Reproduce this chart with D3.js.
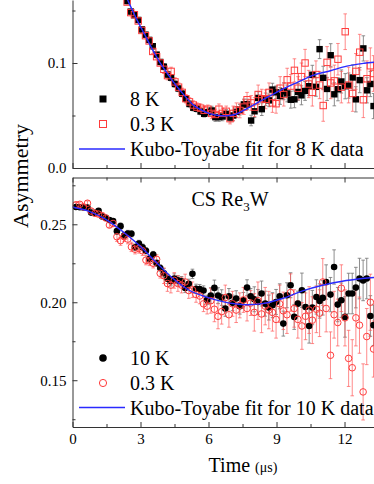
<!DOCTYPE html>
<html>
<head>
<meta charset="utf-8">
<script src="https://cdn.jsdelivr.net/npm/d3@7"></script>
<style>
    body { margin: 0; background: #fff; }
    svg { display: block; font-family: "Liberation Serif", "Times New Roman", serif; }
</style>
</head>
<body>
<svg id="chart" width="374" height="484"></svg>
<script>
// ---- data ----
// upper panel (8 K / 0.3 K), time in us
const timesTop = [2.41, 2.57, 2.73, 2.90, 3.06, 3.22, 3.38, 3.54, 3.71, 3.87, 4.03, 4.19, 4.35, 4.52, 4.68,
    4.84, 5.00, 5.16, 5.33, 5.49, 5.65, 5.81, 5.97, 6.14, 6.30, 6.46, 6.62, 6.78, 6.95,
    7.09, 7.23, 7.38, 7.56, 7.70, 7.88, 8.03, 8.19, 8.35, 8.52, 8.67, 8.82, 8.98, 9.16, 9.32, 9.47,
    9.63, 9.79, 9.95, 10.10, 10.26, 10.42, 10.58, 10.74, 10.90, 11.06, 11.23, 11.39, 11.55, 11.71,
    11.86, 12.03, 12.18, 12.36, 12.50, 12.67, 12.83, 12.99, 13.14, 13.28];
const asym8K = [0.159, 0.149, 0.1455, 0.141, 0.132, 0.127, 0.122, 0.116, 0.108, 0.101, 0.0965, 0.089, 0.086,
    0.080, 0.0757, 0.0708, 0.066, 0.061, 0.0574, 0.0564, 0.0538, 0.0516, 0.0532, 0.0548, 0.0484, 0.0484,
    0.049, 0.0516, 0.048,
    0.050, 0.0535, 0.0555, 0.0606, 0.0606, 0.0452, 0.054, 0.0667, 0.056, 0.0654, 0.0644, 0.0747, 0.0721,
    0.0686, 0.073, 0.071, 0.065, 0.0654, 0.0724, 0.0692, 0.0734, 0.0779, 0.0888, 0.0773, 0.1132, 0.0859,
    0.0753, 0.1074, 0.0702, 0.075, 0.0824, 0.0779, 0.0785, 0.0862, 0.0654, 0.0837, 0.1139, 0.074, 0.080, 0.059];
const err8K = [0.002, 0.002, 0.002, 0.002, 0.002, 0.002, 0.002, 0.002, 0.002, 0.002,
    0.003, 0.003, 0.003, 0.003, 0.003, 0.003, 0.003, 0.003, 0.003, 0.003, 0.003, 0.003, 0.003,
    0.004, 0.004, 0.004, 0.004, 0.004, 0.004,
    0.005, 0.005, 0.005, 0.005, 0.005, 0.005,
    0.006, 0.006, 0.006, 0.006, 0.006, 0.006, 0.006,
    0.008, 0.008, 0.008, 0.008, 0.008, 0.008,
    0.009, 0.009, 0.009, 0.009, 0.009, 0.009,
    0.011, 0.011, 0.011, 0.011, 0.011, 0.011,
    0.012, 0.012, 0.012, 0.012, 0.012, 0.012, 0.012, 0.012, 0.012];
const asym03Ktop = [0.158, 0.148, 0.146, 0.140, 0.131, 0.126, 0.121, 0.111, 0.106, 0.100, 0.094, 0.088, 0.092,
    0.082, 0.077, 0.072, 0.066, 0.063, 0.060, 0.058, 0.057, 0.055, 0.056, 0.052, 0.051, 0.056, 0.052,
    0.054, 0.047,
    0.052, 0.055, 0.0548, 0.058, 0.065, 0.062, 0.058, 0.070, 0.066, 0.0654, 0.072, 0.062, 0.0612, 0.076,
    0.070, 0.084, 0.078, 0.093, 0.076, 0.087, 0.100, 0.080, 0.072, 0.089, 0.079, 0.0595, 0.1006, 0.081,
    0.083, 0.1036, 0.077, 0.1298, 0.079, 0.071, 0.092, 0.1103, 0.065, 0.085, 0.0974, 0.090];
const err03Ktop = [0.002, 0.002, 0.002, 0.002, 0.002, 0.002, 0.002, 0.002, 0.002, 0.002,
    0.004, 0.004, 0.004, 0.004, 0.004, 0.004, 0.004, 0.004, 0.004, 0.004, 0.004, 0.004, 0.004,
    0.005, 0.005, 0.005, 0.005, 0.005, 0.005,
    0.007, 0.007, 0.007, 0.007, 0.007, 0.007,
    0.009, 0.009, 0.009, 0.009, 0.009, 0.009, 0.009,
    0.011, 0.011, 0.011, 0.011, 0.011, 0.011,
    0.013, 0.013, 0.013, 0.013, 0.013, 0.013,
    0.015, 0.015, 0.015, 0.015, 0.015, 0.015,
    0.017, 0.017, 0.017, 0.017, 0.017, 0.017, 0.017, 0.017, 0.017];
const fitTimesTop = [2.2, 2.41, 2.8, 3.15, 3.5, 3.88, 4.25, 4.62, 5.0, 5.35, 5.7, 6.09, 6.45, 6.82, 7.2,
    7.82, 8.4, 9.17, 9.9, 10.64, 11.38, 12.1, 12.86, 13.4];
const fitTop = [0.171, 0.161, 0.143, 0.1285, 0.114, 0.0997, 0.088, 0.0772, 0.0675, 0.0596, 0.055, 0.0516,
    0.050, 0.0497, 0.0512, 0.058, 0.065, 0.074, 0.0814, 0.0885, 0.0926, 0.097, 0.0997, 0.101];

// lower panel (10 K / 0.3 K)
const timesBot = [0.15, 0.32, 0.48, 0.66, 0.82, 0.99, 1.15, 1.31, 1.47, 1.63, 1.79, 1.96, 2.12, 2.28, 2.44,
    2.60, 2.76, 2.93, 3.09, 3.24, 3.40, 3.56, 3.71, 3.87, 4.03, 4.19, 4.34, 4.49, 4.65, 4.81, 4.97, 5.13,
    5.29, 5.45, 5.61, 5.78, 5.94, 6.10, 6.26, 6.42, 6.58, 6.74, 6.90, 7.06, 7.22, 7.38, 7.54, 7.70, 7.86,
    8.02, 8.18, 8.34, 8.50, 8.66, 8.82, 8.98, 9.14, 9.30, 9.46, 9.62, 9.78, 9.94, 10.12, 10.28, 10.44,
    10.58, 10.76, 10.90, 11.04, 11.19, 11.38, 11.54, 11.70, 11.86, 12.02, 12.18, 12.34, 12.50, 12.66,
    12.82, 12.98, 13.14, 13.28];
const asym10K = [0.2611, 0.2609, 0.2608, 0.2608, 0.2575, 0.2574, 0.2587, 0.2550, 0.2542, 0.2527,
    0.2520, 0.2456, 0.2488, 0.2428, 0.2441, 0.2439, 0.2353, 0.2377, 0.2353, 0.2330,
    0.2278, 0.2306, 0.2251, 0.2220, 0.2186, 0.2150, 0.2135, 0.2152, 0.2140, 0.2135,
    0.2092, 0.2118, 0.2182, 0.2086, 0.2084, 0.2075, 0.2015, 0.2043, 0.2092, 0.2043,
    0.2030, 0.1960, 0.2038, 0.1996, 0.2024, 0.1974, 0.2013, 0.2094, 0.2038, 0.2019,
    0.2002, 0.2056, 0.1991, 0.1966, 0.1981, 0.2002, 0.2038, 0.1863, 0.2045, 0.2109,
    0.1906, 0.1991, 0.2077, 0.1970, 0.1848, 0.1966, 0.2034, 0.2008, 0.2028, 0.2130,
    0.2049, 0.2226, 0.1985, 0.2013, 0.1906, 0.2056, 0.2056, 0.2094, 0.2152, 0.2140,
    0.2152, 0.1912, 0.1853];
const err10K = [0.001, 0.001, 0.001, 0.001, 0.001, 0.001, 0.001, 0.001, 0.001, 0.001, 0.001,
    0.002, 0.002, 0.002, 0.002, 0.002, 0.002, 0.002, 0.002, 0.002, 0.002, 0.002, 0.002, 0.002,
    0.003, 0.003, 0.003, 0.003, 0.003, 0.003, 0.003, 0.003, 0.003, 0.003, 0.003, 0.003, 0.003,
    0.005, 0.005, 0.005, 0.005, 0.005, 0.005, 0.005, 0.005, 0.005, 0.005, 0.005, 0.005,
    0.008, 0.008, 0.008, 0.008, 0.008, 0.008, 0.008, 0.008, 0.008, 0.008, 0.008, 0.008, 0.008,
    0.011, 0.011, 0.011, 0.011, 0.011, 0.011, 0.011, 0.011, 0.011, 0.011, 0.011, 0.011,
    0.013, 0.013, 0.013, 0.013, 0.013, 0.013, 0.013, 0.013, 0.013];
const asym03Kbot = [0.2625, 0.2628, 0.2612, 0.2635, 0.2585, 0.2570, 0.2565, 0.2555, 0.2540, 0.2495,
    0.2505, 0.2420, 0.2395, 0.2420, 0.2405, 0.2355, 0.2340, 0.2345, 0.2330, 0.2270,
    0.2265, 0.2250, 0.2275, 0.2185, 0.2170, 0.2120, 0.2110, 0.2140, 0.2120, 0.2110,
    0.2130, 0.2075, 0.2080, 0.2050, 0.2040, 0.1990, 0.1975, 0.2010, 0.1955, 0.1910,
    0.1940, 0.2030, 0.1920, 0.1990, 0.1950, 0.1980, 0.2015, 0.1960, 0.1995, 0.1935,
    0.2010, 0.1925, 0.1975, 0.1950, 0.1935, 0.1890, 0.1990, 0.1945, 0.1920, 0.2062,
    0.1960, 0.1890, 0.1848, 0.1910, 0.1950, 0.1885, 0.1955, 0.1930, 0.2130, 0.1960,
    0.1660, 0.1920, 0.1870, 0.2090, 0.1900, 0.1640, 0.1580, 0.1900, 0.1853, 0.1425,
    0.1780, 0.2000, 0.1700];
const err03Kbot = [0.0015, 0.0015, 0.0015, 0.0015, 0.0015, 0.0015, 0.0015, 0.0015, 0.0015, 0.0015, 0.0015,
    0.003, 0.003, 0.003, 0.003, 0.003, 0.003, 0.003, 0.003, 0.003, 0.003, 0.003, 0.003, 0.003,
    0.005, 0.005, 0.005, 0.005, 0.005, 0.005, 0.005, 0.005, 0.005, 0.005, 0.005, 0.005, 0.005,
    0.008, 0.008, 0.008, 0.008, 0.008, 0.008, 0.008, 0.008, 0.008, 0.008, 0.008, 0.008,
    0.012, 0.012, 0.012, 0.012, 0.012, 0.012, 0.012, 0.012, 0.012, 0.012, 0.012, 0.012, 0.012,
    0.015, 0.015, 0.015, 0.015, 0.015, 0.015, 0.015, 0.015, 0.015, 0.015, 0.015, 0.015,
    0.018, 0.018, 0.018, 0.018, 0.018, 0.018, 0.018, 0.018, 0.018];
const fitTimesBot = [0, 0.735, 1.47, 2.2, 2.94, 3.68, 4.41, 5.15, 5.88, 6.62, 7.5, 8.38, 9.26, 10.15,
    11.03, 11.9, 12.79, 13.4];
const fitBot = [0.2611, 0.2583, 0.2532, 0.2455, 0.2365, 0.2258, 0.2156, 0.2077, 0.2034, 0.2004, 0.1985,
    0.1991, 0.2024, 0.2073, 0.2109, 0.2135, 0.2152, 0.2160];

// ticks and labels
const xTicks = [0, 3, 6, 9, 12];
const xMinor = [1.5, 4.5, 7.5, 10.5];
const yTicksTop = [0, 0.1];
const yMinorTop = [0.05, 0.15];
const yTicksBot = [0.15, 0.20, 0.25];
const yMinorBot = [0.125, 0.175, 0.225, 0.275];
const legendTop = ['8 K', '0.3 K', 'Kubo-Toyabe fit for 8 K data'];
const legendBot = ['10 K', '0.3 K', 'Kubo-Toyabe fit for 10 K data'];

// ---- drawing ----
const svg = d3.select('#chart');
const blue = '#2a2aff';
const red = '#ff3b3b';

const x = d3.scaleLinear().domain([0, 13.3]).range([72.5, 374]);
const yTop = d3.scaleLinear().domain([0, 0.16]).range([168, 0]);
const yBot = d3.scaleLinear().domain([0.12, 0.28]).range([427, 177.5]);

function makeSeries(times, vals, errs) {
    return times.map((t, i) => ({ t: t, v: vals[i], e: errs[i] }));
}

function drawPanel(id, y, black, open, shape, fitT, fitV) {
    let top = y.range()[1], bottom = y.range()[0];
    svg.append('clipPath').attr('id', id)
        .append('rect')
        .attr('x', x.range()[0]).attr('y', top)
        .attr('width', x.range()[1] - x.range()[0]).attr('height', bottom - top);

    let g = svg.append('g').attr('clip-path', 'url(#' + id + ')');

    function errorBars(data, color, opacity) {
        let eb = g.append('g').attr('stroke', color).attr('stroke-opacity', opacity).attr('stroke-width', 1);
        eb.selectAll('line.bar').data(data).enter().append('line')
            .attr('x1', d => x(d.t)).attr('x2', d => x(d.t))
            .attr('y1', d => y(d.v - d.e)).attr('y2', d => y(d.v + d.e));
        [-1, 1].forEach(function(s) {
            eb.selectAll('line.cap' + s).data(data).enter().append('line')
                .attr('x1', d => x(d.t) - 1.8).attr('x2', d => x(d.t) + 1.8)
                .attr('y1', d => y(d.v + s * d.e)).attr('y2', d => y(d.v + s * d.e));
        });
    }
    errorBars(black, '#7a7a7a', 0.85);
    errorBars(open, '#ff5a5a', 0.7);

    function markers(data, filled) {
        let sel = g.append('g').selectAll('.m').data(data).enter();
        let m;
        if (shape === 'square') {
            m = sel.append('rect')
                .attr('x', d => x(d.t) - 3.2).attr('y', d => y(d.v) - 3.2)
                .attr('width', 6.4).attr('height', 6.4);
        } else {
            m = sel.append('circle')
                .attr('cx', d => x(d.t)).attr('cy', d => y(d.v)).attr('r', 3.3);
        }
        if (filled) {
            m.attr('fill', '#000');
        } else {
            m.attr('fill', 'none').attr('stroke', red).attr('stroke-width', 1);
        }
    }
    markers(black, true);
    markers(open, false);

    let fit = fitT.map((t, i) => [t, fitV[i]]);
    g.append('path').datum(fit)
        .attr('fill', 'none').attr('stroke', blue).attr('stroke-width', 1.4)
        .attr('d', d3.line().x(d => x(d[0])).y(d => y(d[1])).curve(d3.curveCatmullRom));
}

drawPanel('clipTop', yTop, makeSeries(timesTop, asym8K, err8K),
    makeSeries(timesTop, asym03Ktop, err03Ktop), 'square', fitTimesTop, fitTop);
drawPanel('clipBot', yBot, makeSeries(timesBot, asym10K, err10K),
    makeSeries(timesBot, asym03Kbot, err03Kbot), 'circle', fitTimesBot, fitBot);

// axes
function styleAxis(sel) {
    sel.attr('font-family', null).attr('font-size', null);
    sel.select('.domain').attr('stroke', '#333');
    sel.selectAll('.tick line').attr('stroke', '#333');
    sel.selectAll('.tick text').attr('fill', '#000').style('font-size', '15px');
}

function yAxes(y, major, minor, fmt) {
    svg.append('g').attr('transform', 'translate(' + x.range()[0] + ',0)')
        .call(d3.axisLeft(y).tickValues(major).tickFormat(d3.format(fmt))
            .tickSizeInner(-5).tickSizeOuter(0).tickPadding(6))
        .call(styleAxis);
    svg.append('g').attr('transform', 'translate(' + x.range()[0] + ',0)')
        .call(d3.axisLeft(y).tickValues(minor).tickFormat('').tickSizeInner(-3).tickSizeOuter(0))
        .call(styleAxis)
        .select('.domain').remove();
}
yAxes(yTop, yTicksTop, yMinorTop, '.1f');
yAxes(yBot, yTicksBot, yMinorBot, '.2f');

function xAxis(yPos, make, labels) {
    svg.append('g').attr('transform', 'translate(0,' + yPos + ')')
        .call(make(x).tickValues(xTicks).tickFormat(labels ? d3.format('d') : '')
            .tickSizeInner(-5).tickSizeOuter(0).tickPadding(6))
        .call(styleAxis);
    svg.append('g').attr('transform', 'translate(0,' + yPos + ')')
        .call(make(x).tickValues(xMinor).tickFormat('').tickSizeInner(-3).tickSizeOuter(0))
        .call(styleAxis)
        .select('.domain').remove();
}
xAxis(yTop.range()[0], d3.axisBottom, false);
xAxis(yBot.range()[1], d3.axisTop, false);
xAxis(yBot.range()[0], d3.axisBottom, true);

// axis titles
svg.append('text')
    .attr('transform', 'translate(28,176) rotate(-90)')
    .attr('text-anchor', 'middle')
    .style('font-size', '22px')
    .text('Asymmetry');

let xt = svg.append('text').attr('x', 243).attr('y', 472)
    .attr('text-anchor', 'middle').style('font-size', '20px');
xt.append('tspan').text('Time ');
xt.append('tspan').style('font-size', '14px').text('(\u03bcs)');

// sample label
let lab = svg.append('text').attr('x', 230).attr('y', 206)
    .attr('text-anchor', 'middle').style('font-size', '20px');
lab.append('tspan').text('CS Re');
lab.append('tspan').attr('dy', 5).style('font-size', '13px').text('3');
lab.append('tspan').attr('dy', -5).text('W');

// legends
function legend(items, rows, shape) {
    let lg = svg.append('g');
    if (shape === 'square') {
        lg.append('rect').attr('x', 99.5).attr('y', rows[0] - 3.5).attr('width', 7).attr('height', 7).attr('fill', '#000');
        lg.append('rect').attr('x', 99.5).attr('y', rows[1] - 3.5).attr('width', 7).attr('height', 7)
            .attr('fill', 'none').attr('stroke', red);
    } else {
        lg.append('circle').attr('cx', 103).attr('cy', rows[0]).attr('r', 3.8).attr('fill', '#000');
        lg.append('circle').attr('cx', 103).attr('cy', rows[1]).attr('r', 3.6)
            .attr('fill', 'none').attr('stroke', red);
    }
    lg.append('line').attr('x1', 79).attr('x2', 125).attr('y1', rows[2]).attr('y2', rows[2])
        .attr('stroke', blue).attr('stroke-width', 1.4);
    lg.selectAll('text').data(items).enter().append('text')
        .attr('x', 130).attr('y', (d, i) => rows[i] + 7)
        .style('font-size', '20px')
        .text(d => d);
}
legend(legendTop, [99, 124, 149], 'square');
legend(legendBot, [358, 383, 407.5], 'circle');
</script>
</body>
</html>
